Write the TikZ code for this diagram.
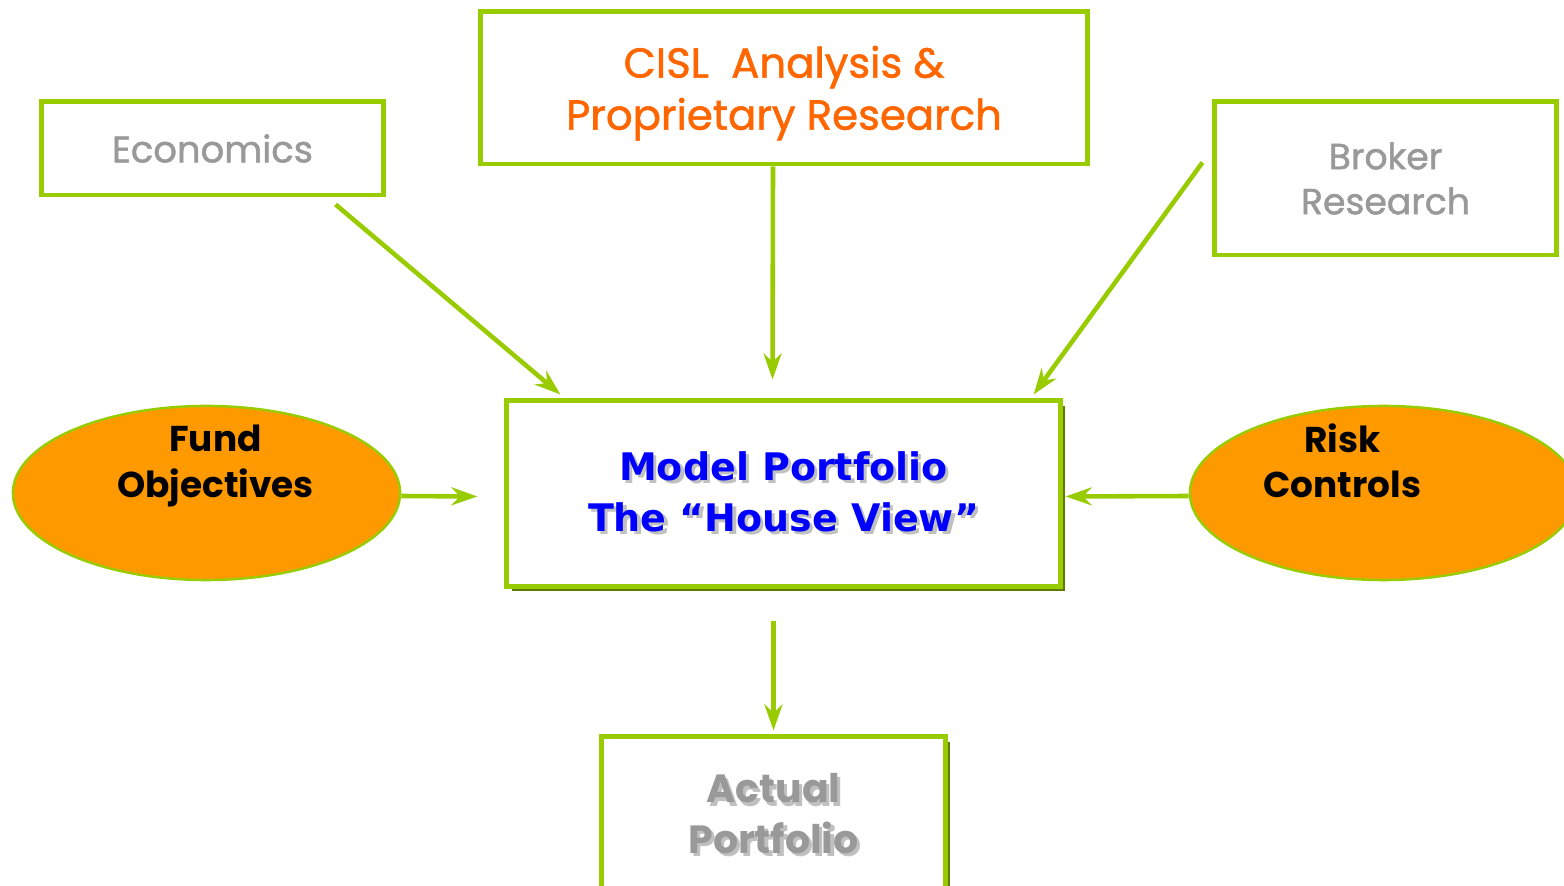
\documentclass[tikz,border=0pt]{standalone}
\usepackage{fontspec}
\setmainfont{Poppins}
\newfontfamily\popmed{Poppins}[FakeBold=1.3]
\newfontfamily\verd{DejaVu Sans}
\usetikzlibrary{shapes.geometric,arrows.meta,calc,shadows}
\definecolor{lime}{HTML}{99CC00}
\definecolor{darklime}{HTML}{5F7A00}
\definecolor{cislorange}{HTML}{FF6600}
\definecolor{ovalorange}{HTML}{FF9900}
\definecolor{txtgray}{HTML}{999999}
\definecolor{shdgray}{HTML}{C0C0C0}
\newcommand\shd[2]{\makebox[0pt][l]{\kern0.9pt\raisebox{-0.9pt}{\textcolor{#1}{#2}}}#2}

\begin{document}
\begin{tikzpicture}[x=0.01cm,y=-0.01cm,
    box/.style={draw=lime, line width=1.4pt, fill=white, align=center, inner sep=0pt},
    shbox/.style={box, drop shadow={shadow xshift=0.05cm, shadow yshift=-0.05cm, fill=darklime, opacity=1}},
    oval/.style={ellipse, draw=lime, line width=0.7pt, fill=ovalorange, minimum width=3.87cm, minimum height=1.74cm, inner sep=0pt},
    ovaltext/.style={align=center, font=\bfseries\fontsize{10.2}{12.9}\selectfont},
    arr/.style={draw=lime, line width=1.3pt, -{Stealth[length=0.26cm,width=0.18cm]}}]
    \path[use as bounding box] (0,0) rectangle (1564,886);
    \clip (0,0) rectangle (1564,886);
    \node[box, minimum width=3.41cm, minimum height=0.93cm, text=txtgray, font=\popmed\fontsize{10.5}{13}\selectfont] (econ) at (212.5,148.5) {Economics};
    \node[box, minimum width=6.06cm, minimum height=1.52cm, text=cislorange, font=\popmed\fontsize{11.9}{14.8}\selectfont] (cisl) at (784,88) {\rule{0pt}{12pt}CISL\ \ Analysis \&\\Proprietary Research};
    \node[box, minimum width=3.41cm, minimum height=1.53cm, text=txtgray, font=\popmed\fontsize{10.3}{12.8}\selectfont] (broker) at (1385.5,178.5) {Broker\\Research};
    \node[shbox, minimum width=5.53cm, minimum height=1.85cm, text=blue, font=\verd\bfseries\fontsize{10.8}{14.5}\selectfont] (model) at (783.5,493.5) {\shd{shdgray}{Model Portfolio}\\\shd{shdgray}{The “House View”}};
    \node[shbox, minimum width=3.43cm, minimum height=1.57cm, text=txtgray, font=\bfseries\fontsize{11.2}{14.5}\selectfont] (actual) at (773.5,815.5) {\shd{shdgray}{Actual}\\\shd{shdgray}{Portfolio}};
    \node[oval, label={[ovaltext, xshift=0.09cm, yshift=0.27cm]center:{Fund\\Objectives}}] (fund) at (206.5,493) {};
    \node[oval, label={[ovaltext, xshift=-0.41cm, yshift=0.32cm]center:{Risk\\Controls}}] (risk) at (1383.5,493) {};
    \draw[arr] ($(econ.south east)+(-50,7)$) -- ($(model.north west)+(56,-4)$);
    \draw[arr] ($(cisl.south)+(-11,0)$) -- ($(model.north)+(-11,-19)$);
    \draw[arr] ($(broker.north west)+(-10,63)$) -- ($(model.north east)+(-29,-4)$);
    \draw[arr] ($(fund.east)+(0,3)$) -- ($(model.west)+(-27,3)$);
    \draw[arr] ($(risk.west)+(0,3)$) -- ($(model.east)+(3,3)$);
    \draw[arr] ($(model.south)+(-10,32)$) -- ($(actual.north)+(0,-4)$);
\end{tikzpicture}
\end{document}
